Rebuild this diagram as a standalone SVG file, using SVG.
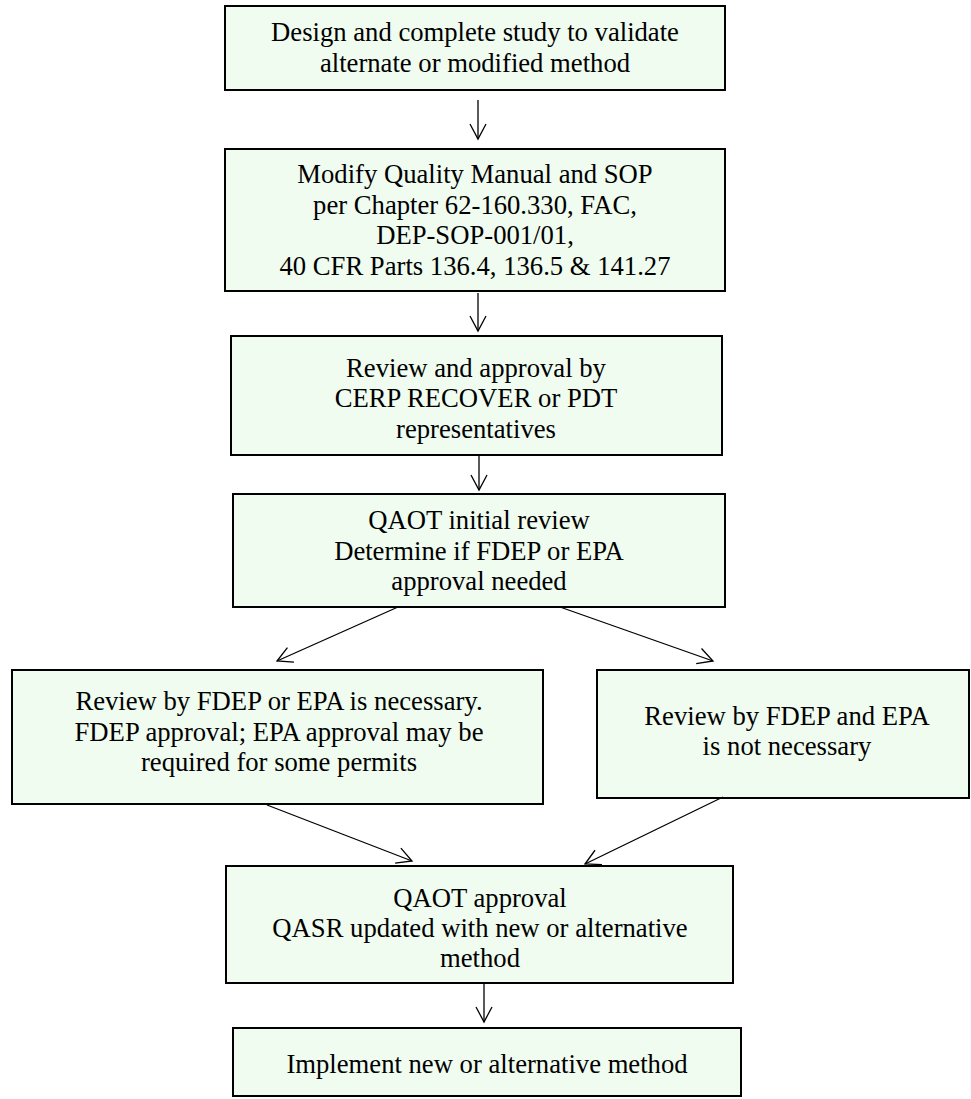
<svg xmlns="http://www.w3.org/2000/svg" width="971" height="1099" viewBox="0 0 971 1099">
<style>
.box{fill:#effcef;stroke:#000;stroke-width:2}
.t{font-family:"Liberation Serif","Times New Roman",serif;font-size:26.67px;fill:#000;text-anchor:middle}
.c{fill:none;stroke:#000;stroke-width:1.3}
</style>
<defs>
<marker id="ah" markerUnits="userSpaceOnUse" markerWidth="18" markerHeight="20" refX="16" refY="9" orient="auto" overflow="visible">
<path d="M1,1 L16,9 L1,17" fill="none" stroke="#000" stroke-width="1.3"/>
</marker>
</defs>
<rect width="971" height="1099" fill="#fff"/>
<g id="n1"><rect class="box" x="225" y="6" width="500" height="84"/>
<text class="t" x="475" y="41">Design and complete study to validate</text>
<text class="t" x="475" y="72">alternate or modified method</text></g>
<g id="n2"><rect class="box" x="225" y="149" width="500" height="142"/>
<text class="t" x="475" y="183">Modify Quality Manual and SOP</text>
<text class="t" x="475" y="214">per Chapter 62-160.330, FAC,</text>
<text class="t" x="475" y="244">DEP-SOP-001/01,</text>
<text class="t" x="475" y="275">40 CFR Parts 136.4, 136.5 &amp; 141.27</text></g>
<g id="n3"><rect class="box" x="231" y="336" width="491" height="119"/>
<text class="t" x="476" y="377">Review and approval by</text>
<text class="t" x="476" y="407">CERP RECOVER or PDT</text>
<text class="t" x="476" y="438">representatives</text></g>
<g id="n4"><rect class="box" x="233" y="494" width="492" height="113"/>
<text class="t" x="479" y="529">QAOT initial review</text>
<text class="t" x="479" y="560">Determine if FDEP or EPA</text>
<text class="t" x="479" y="590">approval needed</text></g>
<g id="n5"><rect class="box" x="12" y="670" width="531" height="134"/>
<text class="t" x="279" y="710">Review by FDEP or EPA is necessary.</text>
<text class="t" x="279" y="741">FDEP approval; EPA approval may be</text>
<text class="t" x="279" y="771">required for some permits</text></g>
<g id="n6"><rect class="box" x="597" y="670" width="372" height="128"/>
<text class="t" x="787" y="725">Review by FDEP and EPA</text>
<text class="t" x="787" y="755">is not necessary</text></g>
<g id="n7"><rect class="box" x="226" y="866" width="507" height="117"/>
<text class="t" x="480" y="907">QAOT approval</text>
<text class="t" x="480" y="937">QASR updated with new or alternative</text>
<text class="t" x="480" y="967">method</text></g>
<g id="n8"><rect class="box" x="233" y="1028" width="508" height="68"/>
<text class="t" x="487" y="1073">Implement new or alternative method</text></g>
<g id="connectors">
<line class="c" x1="478" y1="100" x2="478" y2="139" marker-end="url(#ah)"/>
<line class="c" x1="478" y1="293" x2="478" y2="331" marker-end="url(#ah)"/>
<line class="c" x1="479" y1="456" x2="479" y2="490" marker-end="url(#ah)"/>
<line class="c" x1="398" y1="607" x2="277" y2="661" marker-end="url(#ah)"/>
<line class="c" x1="560" y1="607" x2="713" y2="661" marker-end="url(#ah)"/>
<line class="c" x1="267" y1="805" x2="412" y2="861" marker-end="url(#ah)"/>
<line class="c" x1="723" y1="797" x2="585" y2="864" marker-end="url(#ah)"/>
<line class="c" x1="484" y1="984" x2="484" y2="1022" marker-end="url(#ah)"/>
</g>
</svg>
